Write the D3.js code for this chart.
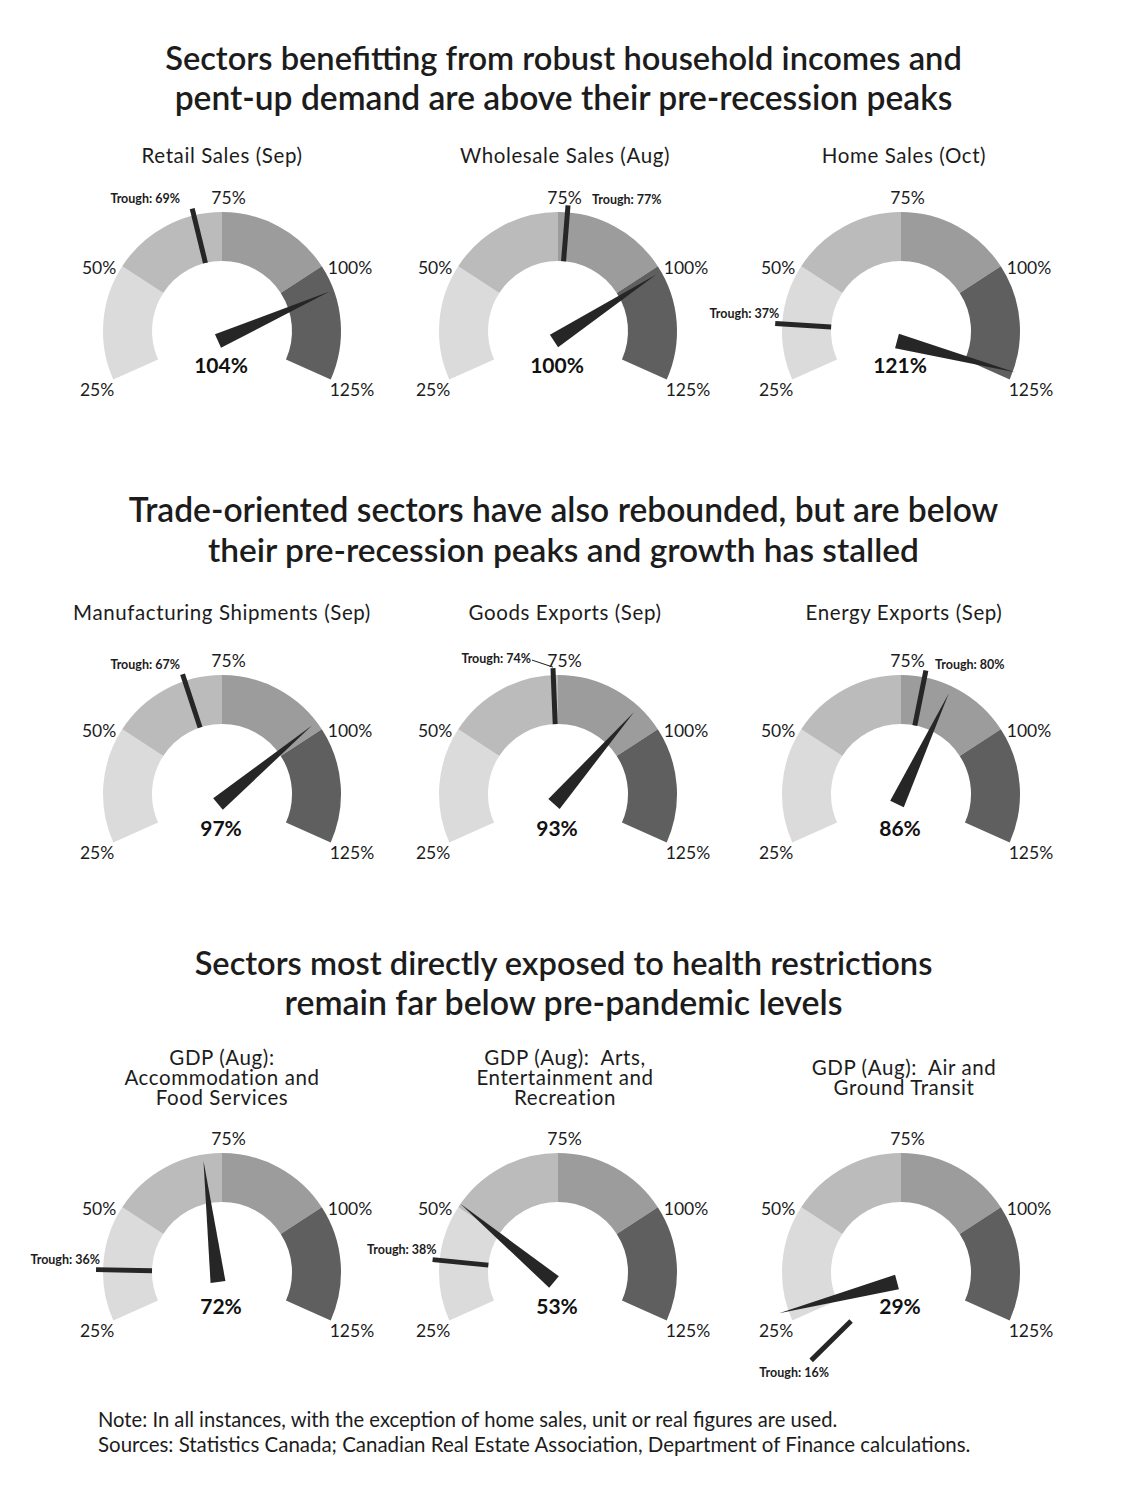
<!DOCTYPE html>
<html>
<head>
<meta charset="utf-8">
<script src="https://cdn.jsdelivr.net/npm/d3@7"></script>
<style>
  body { margin: 0; background: #fff; }
  svg { display: block; font-family: Lato, "Noto Sans", sans-serif; }
  text.gauge-title { white-space: pre; }
</style>
</head>
<body>
<div id="chart"></div>
<script>
// section headings (two lines each)
const sectionTitles = [
  ["Sectors benefitting from robust household incomes and", "pent-up demand are above their pre-recession peaks"],
  ["Trade-oriented sectors have also rebounded, but are below", "their pre-recession peaks and growth has stalled"],
  ["Sectors most directly exposed to health restrictions", "remain far below pre-pandemic levels"]
];

// gauge titles, one list of lines per gauge
const gaugeTitles = [
  ["Retail Sales (Sep)"], ["Wholesale Sales (Aug)"], ["Home Sales (Oct)"],
  ["Manufacturing Shipments (Sep)"], ["Goods Exports (Sep)"], ["Energy Exports (Sep)"],
  ["GDP (Aug):", "Accommodation and", "Food Services"],
  ["GDP (Aug):  Arts,", "Entertainment and", "Recreation"],
  ["GDP (Aug):  Air and", "Ground Transit"]
];

// current level, % of pre-recession peak
const currentValues = [104, 100, 121, 97, 93, 86, 72, 53, 29];
// trough level, % of pre-recession peak
const troughValues = [69, 77, 37, 67, 74, 80, 36, 38, 16];

const bandEdges = [25, 50, 75, 100, 125];
const tickLabels = ["25%", "50%", "75%", "100%", "125%"];
const bandColors = ["#dbdbdb", "#bbbbbb", "#9c9c9c", "#5f5f5f"];

const notes = [
  "Note: In all instances, with the exception of home sales, unit or real figures are used.",
  "Sources: Statistics Canada; Canadian Real Estate Association, Department of Finance calculations."
];

// ---- layout ----
const width = 1127, height = 1486;
const colX = [222, 558, 901];        // gauge centres
const titleX = [222, 565, 904];      // gauge title centres
const rowY = [331, 794, 1272];       // gauge centres
const sectionY = [57, 509, 962];     // first heading line
const gaugeTitleY = [155, 612, 1077]; // middle of the gauge title block
const outerR = 119, innerR = 70;
const ink = "#1c1c1c", needleColor = "#262626";

const toRad = Math.PI / 180;
const angle = d3.scaleLinear().domain([25, 125]).range([-114, 114]); // degrees, clockwise from top

const svg = d3.select("#chart").append("svg")
  .attr("width", width)
  .attr("height", height);

svg.append("rect").attr("width", width).attr("height", height).attr("fill", "#fff");

// fit a text element to a target width by adjusting font size
function fitWidth(sel, w) {
  sel.each(function () {
    const cur = parseFloat(this.getAttribute("font-size"));
    const len = this.getComputedTextLength();
    if (len > 0) this.setAttribute("font-size", (cur * w / len).toFixed(2));
  });
}

const headingWidths = [[797, 778], [870, 711], [738, 558]];
sectionTitles.forEach((lines, s) => {
  lines.forEach((line, i) => {
    svg.append("text")
      .attr("x", width / 2)
      .attr("y", sectionY[s] + i * 40)
      .attr("text-anchor", "middle")
      .attr("dominant-baseline", "central")
      .attr("font-size", 30)
      .attr("font-weight", 600)
      .attr("fill", ink)
      .text(line)
      .call(fitWidth, headingWidths[s][i]);
  });
});

const arc = d3.arc().innerRadius(innerR).outerRadius(outerR);
const bands = d3.pairs(bandEdges);

currentValues.forEach((value, i) => {
  const cx = colX[i % 3], cy = rowY[Math.floor(i / 3)];
  const g = svg.append("g").attr("transform", `translate(${cx},${cy})`);

  // title
  const lines = gaugeTitles[i];
  lines.forEach((line, k) => {
    svg.append("text")
      .attr("class", "gauge-title")
      .attr("x", titleX[i % 3])
      .attr("y", gaugeTitleY[Math.floor(i / 3)] + (k - (lines.length - 1) / 2) * 20)
      .attr("text-anchor", "middle")
      .attr("dominant-baseline", "central")
      .attr("font-size", 20.5)
      .attr("letter-spacing", 0.6)
      .attr("fill", ink)
      .text(line);
  });

  // bands
  g.selectAll("path.band")
    .data(bands)
    .join("path")
    .attr("class", "band")
    .attr("d", d => arc({ startAngle: angle(d[0]) * toRad, endAngle: angle(d[1]) * toRad }))
    .attr("fill", (d, k) => bandColors[k]);

  // tick labels
  g.selectAll("text.tick")
    .data(bandEdges)
    .join("text")
    .attr("class", "tick")
    .each(function (d, k) {
      const a = angle(d) * toRad;
      const ox = outerR * Math.sin(a), oy = -outerR * Math.cos(a);
      const t = d3.select(this);
      if (Math.abs(angle(d)) < 1) {
        t.attr("x", ox + 6.5).attr("y", oy - 15).attr("text-anchor", "middle");
      } else if (Math.abs(angle(d)) < 90) {
        t.attr("x", ox + (ox < 0 ? -6 : 6)).attr("y", oy + 1)
          .attr("text-anchor", ox < 0 ? "end" : "start");
      } else {
        t.attr("x", ox + (ox < 0 ? 1 : -1)).attr("y", oy + 10)
          .attr("text-anchor", ox < 0 ? "end" : "start");
      }
      t.text(tickLabels[k]);
    })
    .attr("dominant-baseline", "central")
    .attr("font-size", 17.5)
    .attr("fill", ink);

  // trough marker
  const trough = troughValues[i];
  const ta = angle(trough);
  const tr = ta * toRad;
  const sx = Math.sin(tr), sy = -Math.cos(tr);
  g.append("line")
    .attr("x1", innerR * sx).attr("y1", innerR * sy)
    .attr("x2", 126 * sx).attr("y2", 126 * sy)
    .attr("stroke", needleColor)
    .attr("stroke-width", 5);

  const ox = 126 * sx, oy = 126 * sy;
  const lbl = g.append("text")
    .attr("dominant-baseline", "central")
    .attr("font-size", 12.5)
    .attr("font-weight", 700)
    .attr("fill", ink)
    .text(`Trough: ${trough}%`);
  if (ta > 3) {
    lbl.attr("x", Math.max(ox + 9, 34)).attr("y", oy - 6).attr("text-anchor", "start");
  } else if (ta >= -3) {
    lbl.attr("x", ox - 22).attr("y", oy - 10).attr("text-anchor", "end");
    g.append("line")
      .attr("x1", ox - 21).attr("y1", oy - 8)
      .attr("x2", ox).attr("y2", oy - 1)
      .attr("stroke", ink).attr("stroke-width", 1);
  } else if (ta > -100) {
    lbl.attr("x", Math.min(ox + 4, -42)).attr("y", oy - 10).attr("text-anchor", "end");
  } else {
    lbl.attr("x", ox - 17).attr("y", oy + 12).attr("text-anchor", "middle");
  }

  // needle
  const na = angle(value) * toRad;
  const px = -4, py = 10, len = 122, half = 7.5;
  const dx = Math.sin(na), dy = -Math.cos(na);
  const pts = [
    [px + half * Math.cos(na), py + half * Math.sin(na)],
    [px + len * dx, py + len * dy],
    [px - half * Math.cos(na), py - half * Math.sin(na)]
  ];
  g.append("path")
    .attr("d", d3.line()(pts) + "Z")
    .attr("fill", needleColor);

  // value
  g.append("text")
    .attr("x", -1)
    .attr("y", 33)
    .attr("text-anchor", "middle")
    .attr("dominant-baseline", "central")
    .attr("font-size", 21)
    .attr("font-weight", 700)
    .attr("fill", "#111")
    .text(`${value}%`);
});

// notes
const noteWidths = [740, 873];
notes.forEach((n, i) => {
  svg.append("text")
    .attr("x", 98)
    .attr("y", 1419 + i * 25)
    .attr("dominant-baseline", "central")
    .attr("font-size", 17)
    .attr("fill", ink)
    .text(n)
    .call(fitWidth, noteWidths[i]);
});
</script>
</body>
</html>
